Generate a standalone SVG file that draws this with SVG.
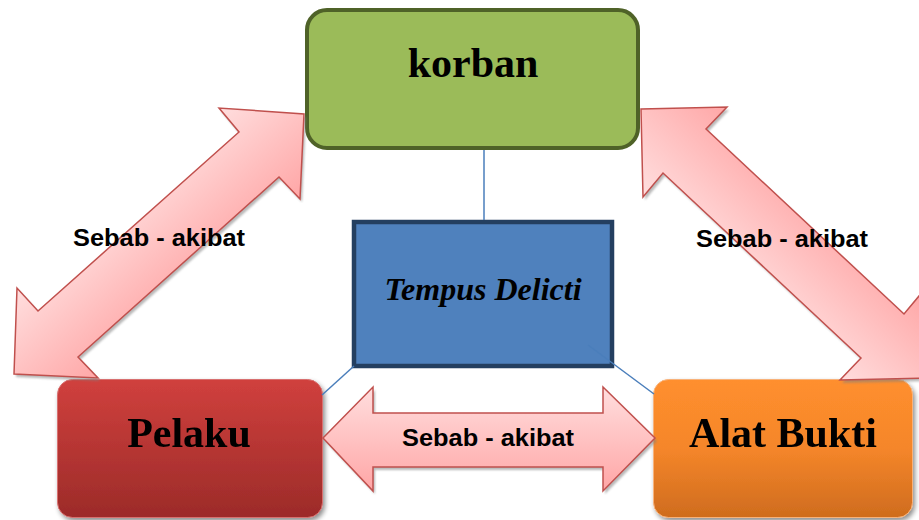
<svg xmlns="http://www.w3.org/2000/svg" width="919" height="520" viewBox="0 0 919 520">
<style>
.title{font-family:"Liberation Serif","Times New Roman",serif;font-weight:bold;font-size:42px;fill:#000;text-anchor:middle}
.ital{font-style:italic;font-size:32px}
.lbl{font-family:"Liberation Sans",Arial,sans-serif;font-weight:bold;font-size:23px;fill:#000;text-anchor:middle}
.link{stroke:#4a7ebb;stroke-width:1.5;fill:none}
.arrow{stroke:#c0504d;stroke-width:1.5;stroke-linejoin:miter}
.shadow{fill:#808080;opacity:0.55}
</style>
<defs>
<filter id="sh" x="-10%" y="-10%" width="130%" height="130%">
<feGaussianBlur in="SourceAlpha" stdDeviation="2.5"/>
<feOffset dx="2" dy="3" result="b"/>
<feComponentTransfer><feFuncA type="linear" slope="0.45"/></feComponentTransfer>
<feMerge><feMergeNode/><feMergeNode in="SourceGraphic"/></feMerge>
</filter>
<filter id="blur1"><feGaussianBlur stdDeviation="1"/></filter>
<linearGradient id="gRed" x1="0" y1="0" x2="0" y2="1">
<stop offset="0" stop-color="#d0403d"/><stop offset="1" stop-color="#9c2b29"/>
</linearGradient>
<linearGradient id="gOrange" x1="0" y1="0" x2="0" y2="1">
<stop offset="0" stop-color="#ff8f2e"/><stop offset="0.5" stop-color="#f5862a"/><stop offset="1" stop-color="#cf6c1e"/>
</linearGradient>
<linearGradient id="gPinkH" x1="0" y1="387" x2="0" y2="491" gradientUnits="userSpaceOnUse">
<stop offset="0" stop-color="#ffdede"/><stop offset="1" stop-color="#ffa6a6"/>
</linearGradient>
<linearGradient id="gPinkL" x1="117" y1="199" x2="199" y2="290" gradientUnits="userSpaceOnUse">
<stop offset="0" stop-color="#ffdede"/><stop offset="1" stop-color="#ffa6a6"/>
</linearGradient>
<linearGradient id="gPinkR" x1="741" y1="288" x2="826" y2="199" gradientUnits="userSpaceOnUse">
<stop offset="0" stop-color="#ffdede"/><stop offset="1" stop-color="#ffa6a6"/>
</linearGradient>
</defs>
<rect width="919" height="520" fill="#ffffff"/>

<g id="korban">
<rect x="307" y="10" width="331" height="138" rx="20" fill="#9bbb59" stroke="#4f6228" stroke-width="4"/>
<text class="title" x="473" y="77">korban</text>
</g>

<g id="tempus-delicti">
<rect x="354" y="222" width="258" height="144" fill="#4f81bd" stroke="#243f60" stroke-width="4.5"/>
<text class="title ital" x="483" y="300">Tempus Delicti</text>
</g>

<g id="pelaku" filter="url(#sh)">
<rect x="57.5" y="379.5" width="265" height="138" rx="15" fill="url(#gRed)" stroke="#d87070" stroke-width="1"/>
<text class="title" x="189" y="447">Pelaku</text>
</g>

<g id="alat-bukti" filter="url(#sh)">
<rect x="653.5" y="379.5" width="259" height="138" rx="15" fill="url(#gOrange)" stroke="#f8b27a" stroke-width="1"/>
<text class="title" x="783" y="447">Alat Bukti</text>
</g>

<g id="connectors">
<line class="link" x1="484" y1="150" x2="484" y2="220"/>
<line class="link" x1="354" y1="366" x2="322" y2="395"/>
<line class="link" x1="588" y1="345" x2="654" y2="394"/>

<g id="arrow-korban-pelaku">
<polygon class="shadow" filter="url(#blur1)" transform="translate(2,3)" points="304,114 300,199 279,177 78,357 98,378 14,374 17,288 38,311 239,132 219,108"/>
<polygon class="arrow" fill="url(#gPinkL)" points="304,114 300,199 279,177 78,357 98,378 14,374 17,288 38,311 239,132 219,108"/>
<text class="lbl" x="159" y="246" textLength="172" lengthAdjust="spacingAndGlyphs">Sebab - akibat</text>
</g>

<g id="arrow-korban-alat">
<polygon class="shadow" filter="url(#blur1)" transform="translate(2,3)" points="641,109 727,107 706,129 904,314 924,290 926,378 840,380 861,358 663,173 643,197"/>
<polygon class="arrow" fill="url(#gPinkR)" points="641,109 727,107 706,129 904,314 924,290 926,378 840,380 861,358 663,173 643,197"/>
<text class="lbl" x="782" y="247" textLength="172" lengthAdjust="spacingAndGlyphs">Sebab - akibat</text>
</g>

<g id="arrow-pelaku-alat">
<polygon class="shadow" filter="url(#blur1)" transform="translate(2,3)" points="323,438 373,387 373,413 603,413 603,387 655,438 603,491 603,467 373,467 373,491"/>
<polygon class="arrow" fill="url(#gPinkH)" points="323,438 373,387 373,413 603,413 603,387 655,438 603,491 603,467 373,467 373,491"/>
<text class="lbl" x="488" y="446" textLength="172" lengthAdjust="spacingAndGlyphs">Sebab - akibat</text>
</g>
</g>
</svg>
